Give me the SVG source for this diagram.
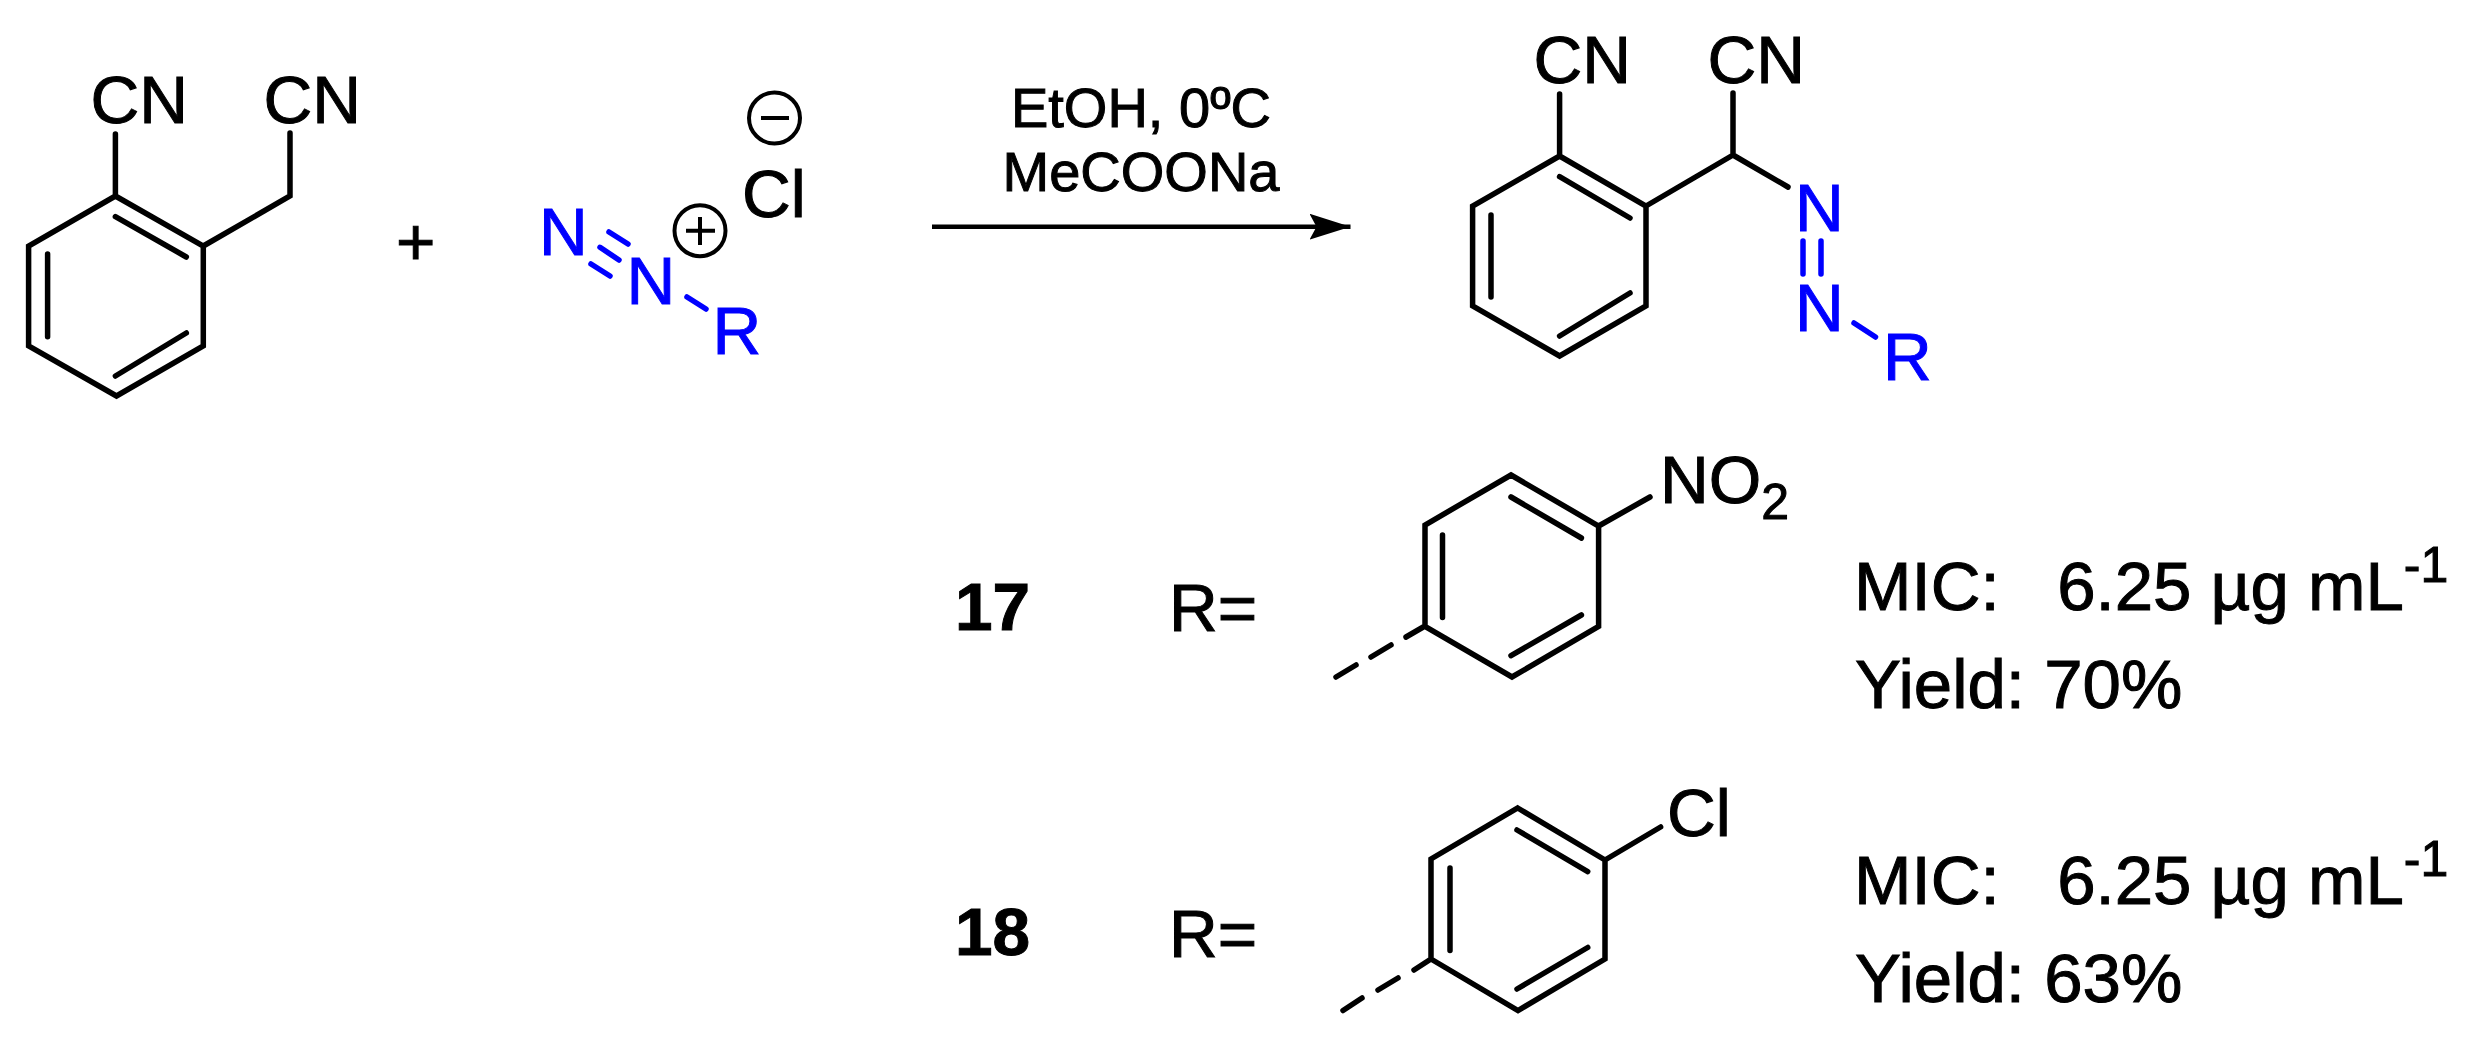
<svg xmlns="http://www.w3.org/2000/svg" width="2480" height="1045" viewBox="0 0 2480 1045">
<style>
text{font-family:"Liberation Sans",Arial,sans-serif;font-size:67.5px;fill:#000;stroke:#000;stroke-width:1}
.b{fill:none;stroke:#000;stroke-width:5.5;stroke-linecap:round;stroke-linejoin:miter}
.bl{fill:none;stroke:#00f;stroke-width:5.5;stroke-linecap:round}
text.blue{fill:#00f;stroke:#00f}
.cond{font-size:56px}
.bold{font-weight:bold}
.ch{fill:none;stroke:#000;stroke-width:4}
.sub{font-size:50px}
.info{font-size:69px}
</style>
<defs>
<marker id="ah" markerUnits="userSpaceOnUse" markerWidth="42" markerHeight="26" refX="41" refY="13" orient="auto"><path d="M0 0L41 13L0 26L7 13Z" fill="#000"/></marker>
</defs>
<rect width="2480" height="1045" fill="#fff"/>
<g id="reactant-nitrile">
<path class="b" d="M115.4 196L203.3 246V346L116.5 396L28.6 346V246ZM115.4 134V196M203.3 246L290 196V133M115.4 216.7L186.3 257M47.6 254V336.7M115.4 376L186.3 333"/>
<text x="90.5" y="123">CN</text>
<text x="263.500" y="122.700">CN</text>
</g>
<g id="plus"><text x="396" y="265">+</text></g>
<g id="reactant-diazonium">
<path class="bl" d="M591 264L610 276M600 247.300L619 260M609 232L628 244M687 297L706 309"/>
<text class="blue" x="539" y="254.700">N</text>
<text class="blue" x="626.500" y="304">N</text>
<text class="blue" x="712.500" y="354">R</text>
<circle class="ch" cx="700" cy="230.700" r="25.500"/>
<path class="ch" d="M686 230.700H715M700 217V245"/>
<circle class="ch" cx="774.500" cy="118" r="25.500"/>
<path class="ch" d="M761 118H789"/>
<text x="742" y="217">Cl</text>
</g>
<g id="connectors">
<line x1="932" y1="226.700" x2="1350.500" y2="226.700" stroke="#000" stroke-width="4.500" marker-end="url(#ah)"/>
</g>
<g id="conditions">
<text class="cond" text-anchor="middle" x="1141" y="126.700">EtOH, 0ºC</text>
<text class="cond" text-anchor="middle" x="1141" y="190.700">MeCOONa</text>
</g>
<g id="product">
<path class="b" d="M1559.600 156L1646 206V306L1559.600 356L1472.600 306V206ZM1559.600 94V156M1646 206L1733 155V93M1733 155L1788 187M1559.600 176.700L1630 218M1491 215V297M1559.600 336L1630 293"/>
<path class="bl" d="M1803 241V274M1821 241V274M1854 323L1875.500 337"/>
<text x="1533.500" y="83">CN</text>
<text x="1707.500" y="82.700">CN</text>
<text class="blue" x="1795" y="231">N</text>
<text class="blue" x="1795" y="331">N</text>
<text class="blue" x="1883" y="380">R</text>
</g>
<g id="compound-17">
<text class="bold" x="955" y="629.600">17</text>
<text x="1169" y="631">R=</text>
<path class="b" d="M1511 475L1598.600 526L1598.600 626.500L1512 677L1425 626.500V525ZM1598.600 526L1650 497M1511 497L1581.400 538M1442.500 535V617.500M1511 655.700L1581.400 615M1425 626L1406 637M1391 645L1371 657M1356 665L1336 677"/>
<text x="1660" y="503">NO<tspan class="sub" dy="15.700">2</tspan></text>
<text class="info" xml:space="preserve" x="1854" y="609.700">MIC:   6.25 µg mL<tspan class="sub" dy="-27.700">-1</tspan></text>
<text class="info" x="1855" y="708">Yield: 70%</text>
</g>
<g id="compound-18">
<text class="bold" x="955" y="955">18</text>
<text x="1169" y="957">R=</text>
<path class="b" d="M1517.700 808L1605 860V959L1518 1010.500L1431 959V859ZM1605 860L1660.600 827M1517 830L1587.700 871.600M1450 868V950.600M1517 989L1587.700 947.500M1431 959L1414 970M1398 978L1378 990M1362 998L1343 1010.500"/>
<text x="1667" y="836">Cl</text>
<text class="info" xml:space="preserve" x="1854" y="904">MIC:   6.25 µg mL<tspan class="sub" dy="-27.700">-1</tspan></text>
<text class="info" x="1855" y="1002.400">Yield: 63%</text>
</g>
</svg>
